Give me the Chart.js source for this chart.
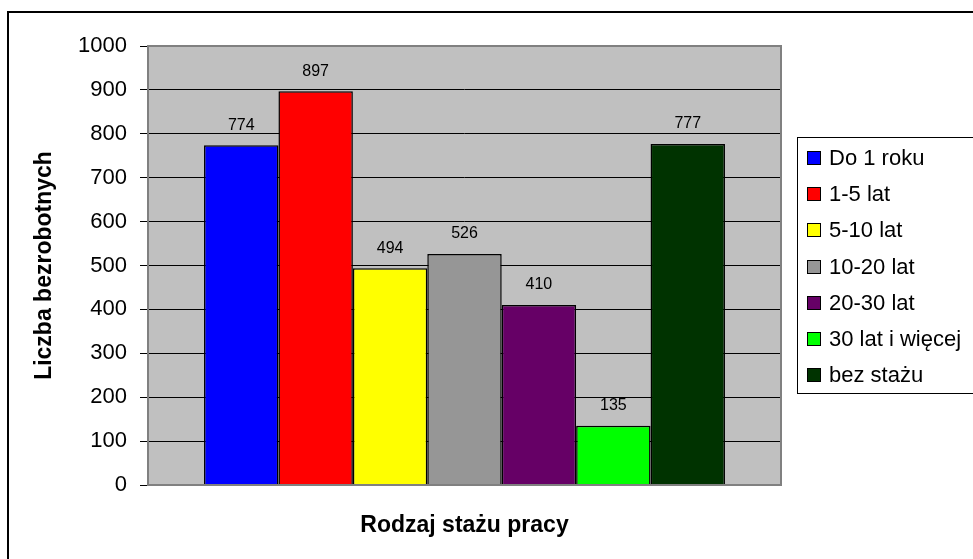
<!DOCTYPE html>
<html>
<head>
<meta charset="utf-8">
<script src="https://cdn.jsdelivr.net/npm/chart.js@4/dist/chart.umd.min.js"></script>
<style>
  html, body { margin: 0; padding: 0; background: #fff; }
  #wrap { width: 973px; height: 559px; }
</style>
</head>
<body>
<div id="wrap"><canvas id="myChart" width="973" height="559"></canvas></div>
<script>
// dane
var kategorie = ['Do 1 roku', '1-5 lat', '5-10 lat', '10-20 lat', '20-30 lat', '30 lat i więcej', 'bez stażu'];
var wartosci = [774, 897, 494, 526, 410, 135, 777];
var kolory = ['#0000ff', '#ff0000', '#ffff00', '#969696', '#660066', '#00ff00', '#003300'];
var osY = { min: 0, max: 1000, krok: 100 };
var tytulY = 'Liczba bezrobotnych';
var tytulX = 'Rodzaj stażu pracy';

var FONT = "'Liberation Sans', Arial, sans-serif";

// tło wykresu, ramki, etykiety, legenda
var excelPlugin = {
  id: 'excel',
  beforeDraw: function(chart) {
    var ctx = chart.ctx, a = chart.chartArea;
    ctx.save();
    ctx.fillStyle = '#fff';
    ctx.fillRect(0, 0, chart.width, chart.height);
    ctx.fillStyle = '#c0c0c0';
    ctx.fillRect(a.left, a.top, a.right - a.left, a.bottom - a.top);
    ctx.restore();
  },
  afterDraw: function(chart) {
    var ctx = chart.ctx, a = chart.chartArea;
    ctx.save();
    // ramka obszaru kreślenia
    ctx.strokeStyle = '#808080';
    ctx.lineWidth = 2;
    ctx.strokeRect(a.left, a.top, a.right - a.left, a.bottom - a.top);

    // etykiety wartości
    ctx.fillStyle = '#000';
    ctx.font = '16px ' + FONT;
    ctx.textAlign = 'center';
    ctx.textBaseline = 'middle';
    chart.data.datasets.forEach(function(ds, i) {
      var meta = chart.getDatasetMeta(i);
      meta.data.forEach(function(el, j) {
        ctx.fillText(String(ds.data[j]), el.x, el.y - 20);
      });
    });

    // tytuły osi
    ctx.font = 'bold 23px ' + FONT;
    ctx.fillText(tytulX, (a.left + a.right) / 2, 526);
    ctx.save();
    ctx.translate(45, (a.top + a.bottom) / 2);
    ctx.rotate(-Math.PI / 2);
    ctx.fillText(tytulY, 0, 0);
    ctx.restore();

    // legenda
    ctx.strokeStyle = '#000';
    ctx.lineWidth = 1;
    ctx.strokeRect(797.5, 137.5, 200, 256);
    ctx.font = '22px ' + FONT;
    ctx.textAlign = 'left';
    chart.data.datasets.forEach(function(ds, i) {
      var y = 158 + i * 36.2;
      ctx.fillStyle = ds.backgroundColor;
      ctx.fillRect(807, Math.round(y) - 7, 14, 14);
      ctx.strokeRect(807.5, Math.round(y) - 6.5, 13, 13);
      ctx.fillStyle = '#000';
      ctx.fillText(ds.label, 829, y + 1);
    });

    // ramka całego wykresu
    ctx.lineWidth = 2;
    ctx.beginPath();
    ctx.moveTo(8, chart.height + 5);
    ctx.lineTo(8, 12);
    ctx.lineTo(chart.width + 5, 12);
    ctx.stroke();
    ctx.restore();
  }
};

var datasets = kategorie.map(function(k, i) {
  return {
    label: k,
    data: [wartosci[i]],
    backgroundColor: kolory[i],
    borderColor: '#000',
    borderWidth: 1.5,
    borderSkipped: 'bottom',
    barPercentage: 1,
    categoryPercentage: 0.823
  };
});

var ctx = document.getElementById('myChart').getContext('2d');
var myChart = new Chart(ctx, {
  type: 'bar',
  data: { labels: [''], datasets: datasets },
  options: {
    responsive: false,
    animation: false,
    devicePixelRatio: 1,
    layout: { padding: { left: 0, top: 46, right: 192, bottom: 0 } },
    plugins: { legend: { display: false }, tooltip: { enabled: false } },
    scales: {
      x: {
        ticks: { display: false },
        grid: { display: false },
        border: { display: false },
        afterFit: function(s) { s.height = 74; }
      },
      y: {
        min: osY.min,
        max: osY.max,
        ticks: {
          stepSize: osY.krok, color: '#000', padding: 13,
          font: { family: FONT, size: 22 },
          callback: function(v) { return String(v); }
        },
        grid: { color: '#000', lineWidth: 1, tickLength: 8, tickColor: '#000' },
        border: { display: false },
        afterFit: function(s) { s.width = 148; }
      }
    }
  },
  plugins: [excelPlugin]
});
</script>
</body>
</html>
